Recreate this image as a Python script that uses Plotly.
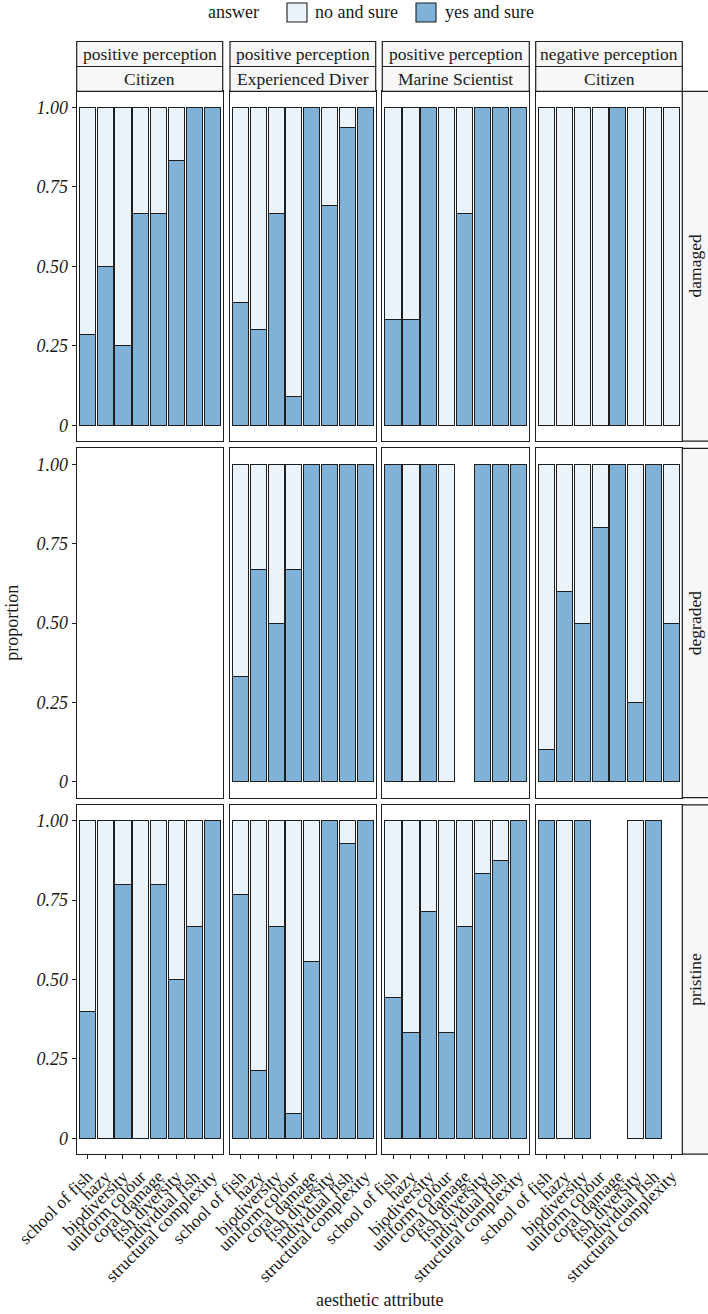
import plotly.graph_objects as go
from plotly.subplots import make_subplots

# ---------------- data ----------------
attributes = ["school of fish", "hazy", "biodiversity", "uniform colour",
              "coral damage", "fish diversity", "individual fish", "structural complexity"]
perceptions = ["positive perception", "positive perception", "positive perception", "negative perception"]
groups = ["Citizen", "Experienced Diver", "Marine Scientist", "Citizen"]
reef_states = ["damaged", "degraded", "pristine"]
answers = ["no and sure", "yes and sure"]
ytick_vals = [0, 0.25, 0.5, 0.75, 1.0]
ytick_text = ["0", "0.25", "0.50", "0.75", "1.00"]

# proportion answering "yes and sure" (None = no responses)
yes_damaged_pos_citizen = [0.286, 0.5, 0.25, 0.667, 0.667, 0.833, 1, 1]
yes_damaged_pos_diver = [0.385, 0.3, 0.667, 0.091, 1, 0.692, 0.938, 1]
yes_damaged_pos_scientist = [0.333, 0.333, 1, 0, 0.667, 1, 1, 1]
yes_damaged_neg_citizen = [0, 0, 0, 0, 1, 0, 0, 0]

yes_degraded_pos_citizen = [None, None, None, None, None, None, None, None]
yes_degraded_pos_diver = [0.333, 0.667, 0.5, 0.667, 1, 1, 1, 1]
yes_degraded_pos_scientist = [1, 0, 1, 0, None, 1, 1, 1]
yes_degraded_neg_citizen = [0.1, 0.6, 0.5, 0.8, 1, 0.25, 1, 0.5]

yes_pristine_pos_citizen = [0.4, 0, 0.8, 0, 0.8, 0.5, 0.667, 1]
yes_pristine_pos_diver = [0.769, 0.214, 0.667, 0.077, 0.556, 1, 0.929, 1]
yes_pristine_pos_scientist = [0.444, 0.333, 0.714, 0.333, 0.667, 0.833, 0.875, 1]
yes_pristine_neg_citizen = [1, 0, 1, None, None, 0, 1, None]

panel_data = [
    [yes_damaged_pos_citizen, yes_damaged_pos_diver, yes_damaged_pos_scientist, yes_damaged_neg_citizen],
    [yes_degraded_pos_citizen, yes_degraded_pos_diver, yes_degraded_pos_scientist, yes_degraded_neg_citizen],
    [yes_pristine_pos_citizen, yes_pristine_pos_diver, yes_pristine_pos_scientist, yes_pristine_neg_citizen],
]

# ---------------- styling ----------------
W, H = 708, 1314
FONT = "Liberation Serif"
COL_NO = "#eaf2fa"
COL_YES = "#80b1d7"
EDGE = "#1e1e1e"
STRIP_BG = "#f7f7f7"
TXT = "#1a1a1a"
FS = 17.5
FS_T = 18

col_lefts = [76.7, 230.0, 382.3, 535.7]
col_rights = [222.7, 375.7, 529.3, 682.3]
row_tops = [91.4, 448.4, 804.8]
row_bottoms = [441.2, 797.6, 1154.2]
strip_top1, strip_mid, strip_bot = 41.5, 66.5, 91.4
rstrip_left, rstrip_right = 682.3, 708.0

def px(x):
    return x / W

def py(y):
    return 1 - y / H

fig = make_subplots(rows=3, cols=4, horizontal_spacing=0.01, vertical_spacing=0.01)

for r in range(3):
    for c in range(4):
        yes = panel_data[r][c]
        yes_vals = [None if (v is None or v == 0) else v for v in yes]
        no_vals = [None if (v is None or v >= 1) else round(1 - v, 4) for v in yes]
        fig.add_trace(go.Bar(x=attributes, y=yes_vals, name=answers[1], width=0.9,
                             marker=dict(color=COL_YES, line=dict(color=EDGE, width=1)),
                             showlegend=False, hoverinfo="x+y"), row=r + 1, col=c + 1)
        fig.add_trace(go.Bar(x=attributes, y=no_vals, name=answers[0], width=0.9,
                             marker=dict(color=COL_NO, line=dict(color=EDGE, width=1)),
                             showlegend=False, hoverinfo="x+y"), row=r + 1, col=c + 1)

for r in range(3):
    for c in range(4):
        idx = r * 4 + c + 1
        xa = "xaxis" if idx == 1 else f"xaxis{idx}"
        ya = "yaxis" if idx == 1 else f"yaxis{idx}"
        fig.layout[xa].update(
            domain=[px(col_lefts[c]), px(col_rights[c])], automargin=False,
            type="category", categoryorder="array", categoryarray=attributes,
            tickmode="array", tickvals=attributes, ticktext=attributes,
            range=[-0.6, 7.6], showgrid=False, zeroline=False,
            showline=True, mirror=True, linecolor=EDGE, linewidth=1.3,
            ticks="outside" if r == 2 else "", ticklen=4, tickwidth=1, tickcolor=EDGE,
            showticklabels=(r == 2), tickangle=-45,
            tickfont=dict(family=FONT, size=FS, color=TXT),
        )
        fig.layout[ya].update(
            domain=[py(row_bottoms[r]), py(row_tops[r])], automargin=False,
            range=[-0.05, 1.05], showgrid=False, zeroline=False,
            showline=True, mirror=True, linecolor=EDGE, linewidth=1.3,
            tickmode="array", tickvals=ytick_vals, ticktext=ytick_text,
            ticks="outside" if c == 0 else "", ticklen=4, tickwidth=1, tickcolor=EDGE,
            showticklabels=(c == 0),
            tickfont=dict(family=FONT, size=FS + 0.5, color=TXT, style="italic"),
        )

shapes = []
annotations = []
# top strips
for c in range(4):
    for (y0, y1, label) in [(strip_top1, strip_mid, perceptions[c]), (strip_mid, strip_bot, groups[c])]:
        shapes.append(dict(type="rect", xref="paper", yref="paper",
                           x0=px(col_lefts[c]), x1=px(col_rights[c]), y0=py(y1), y1=py(y0),
                           fillcolor=STRIP_BG, line=dict(color=EDGE, width=1.2), layer="above"))
        annotations.append(dict(xref="paper", yref="paper", x=px((col_lefts[c] + col_rights[c]) / 2),
                                y=py((y0 + y1) / 2), text=label, showarrow=False,
                                xanchor="center", yanchor="middle",
                                font=dict(family=FONT, size=FS, color=TXT)))
# right strips
for r in range(3):
    shapes.append(dict(type="rect", xref="paper", yref="paper",
                       x0=px(rstrip_left), x1=px(rstrip_right + 2), y0=py(row_bottoms[r]), y1=py(row_tops[r]),
                       fillcolor=STRIP_BG, line=dict(color=EDGE, width=1.2), layer="above"))
    annotations.append(dict(xref="paper", yref="paper", x=px((rstrip_left + rstrip_right) / 2),
                            y=py((row_tops[r] + row_bottoms[r]) / 2), text=reef_states[r],
                            showarrow=False, textangle=-90, xanchor="center", yanchor="middle",
                            font=dict(family=FONT, size=FS, color=TXT)))

# axis titles
annotations.append(dict(xref="paper", yref="paper", x=px(12), y=py((row_tops[0] + row_bottoms[2]) / 2),
                        text="proportion", showarrow=False, textangle=-90,
                        xanchor="center", yanchor="middle", font=dict(family=FONT, size=FS_T, color=TXT)))
annotations.append(dict(xref="paper", yref="paper", x=px((col_lefts[0] + col_rights[3]) / 2), y=py(1300),
                        text="aesthetic attribute", showarrow=False,
                        xanchor="center", yanchor="middle", font=dict(family=FONT, size=FS_T, color=TXT)))

# legend (drawn)
leg_y = 12
annotations.append(dict(xref="paper", yref="paper", x=px(261), y=py(leg_y), text="answer",
                        showarrow=False, xanchor="right", yanchor="middle",
                        font=dict(family=FONT, size=FS_T, color=TXT)))
for (kx, tx, col, lab) in [(287, 313, COL_NO, answers[0]), (416, 443, COL_YES, answers[1])]:
    shapes.append(dict(type="rect", xref="paper", yref="paper", x0=px(kx), x1=px(kx + 20),
                       y0=py(leg_y + 10), y1=py(leg_y - 9), fillcolor=col,
                       line=dict(color=EDGE, width=1.1)))
    annotations.append(dict(xref="paper", yref="paper", x=px(tx), y=py(leg_y), text=lab,
                            showarrow=False, xanchor="left", yanchor="middle",
                            font=dict(family=FONT, size=FS_T, color=TXT)))

fig.update_layout(
    width=W, height=H, autosize=False,
    margin=dict(l=0, r=0, t=0, b=0, pad=0),
    barmode="stack", bargap=0.1,
    plot_bgcolor="white", paper_bgcolor="white",
    showlegend=False,
    shapes=shapes, annotations=annotations,
    font=dict(family=FONT, color=TXT),
)

fig.write_html("out.html", config={"displayModeBar": False},
               post_script="document.body.style.margin='0';document.body.style.overflow='hidden';")
